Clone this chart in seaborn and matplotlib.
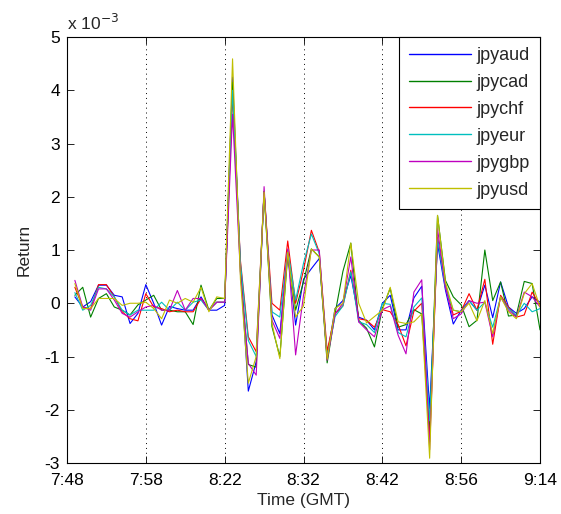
import matplotlib
matplotlib.use("Agg")
import matplotlib.pyplot as plt
import seaborn as sns
import pandas as pd
from matplotlib.ticker import FuncFormatter

# returns in units of 1e-3, one value per minute-step 1..60
steps = list(range(1, 61))
jpyaud = [0.12, -0.07, 0.03, 0.34, 0.34, 0.15, 0.12, -0.38, -0.19, 0.35,
          0.0, -0.41, -0.06, -0.1, -0.13, -0.13, 0.12, -0.13, -0.13, -0.04,
          4.25, 0.7, -1.65, -1.1, 2.1, -0.22, -0.57, 0.93, -0.41, 0.45,
          0.65, 0.84, -1.0, -0.1, 0.05, 0.52, -0.26, -0.32, -0.5, 0.0,
          0.15, -0.5, -0.5, 0.1, 0.32, -1.98, 1.12, 0.25, -0.39, -0.13,
          0.05, -0.13, 0.34, -0.27, 0.4, -0.07, -0.19, -0.1, 0.12, 0.02]
jpycad = [0.15, 0.3, -0.26, 0.09, 0.18, -0.07, -0.13, -0.22, -0.03, 0.06,
          0.15, -0.13, -0.13, -0.16, -0.16, -0.4, 0.34, -0.13, 0.09, 0.09,
          4.15, 0.6, -1.15, -1.2, 2.1, -0.44, -1.0, 0.9, -0.13, 0.4,
          1.02, 0.87, -1.12, -0.2, 0.6, 1.13, -0.32, -0.47, -0.82, -0.1,
          0.28, -0.45, -0.4, -0.12, -0.2, -2.45, 1.65, 0.43, 0.12, -0.03,
          -0.44, -0.32, 1.0, 0.05, 0.4, -0.24, -0.22, 0.41, 0.37, -0.5]
jpychf = [0.3, -0.07, -0.1, 0.35, 0.35, 0.12, -0.16, -0.29, -0.33, 0.18,
          -0.07, -0.1, -0.16, -0.13, -0.16, -0.16, 0.09, -0.13, 0.02, 0.02,
          3.92, 0.8, -0.63, -0.91, 2.1, 0.0, -0.13, 1.17, 0.0, 0.62,
          1.37, 0.96, -0.9, -0.2, -0.05, 0.62, -0.29, -0.32, -0.45, -0.12,
          -0.16, -0.4, -0.8, -0.15, 0.0, -2.6, 1.24, 0.35, -0.22, -0.15,
          0.18, -0.13, 0.45, -0.77, 0.15, -0.07, -0.26, -0.22, 0.21, -0.04]
jpyeur = [0.2, -0.13, -0.04, 0.3, 0.27, 0.12, -0.13, -0.22, -0.13, -0.13,
          -0.13, 0.02, -0.13, 0.02, -0.13, 0.02, 0.06, -0.13, 0.02, 0.02,
          4.0, 0.75, -0.7, -1.0, 2.1, -0.16, -0.26, 1.0, 0.06, 0.75,
          1.3, 0.93, -1.0, -0.25, -0.05, 0.59, -0.35, -0.4, -0.55, 0.0,
          -0.02, -0.55, -0.63, -0.07, 0.1, -2.2, 1.2, 0.3, -0.13, -0.16,
          0.05, -0.13, 0.02, -0.45, 0.12, -0.1, -0.23, 0.0, -0.16, -0.1]
jpygbp = [0.43, -0.07, -0.13, 0.27, 0.27, 0.06, -0.19, -0.26, -0.16, -0.07,
          -0.04, -0.13, -0.13, 0.24, -0.13, 0.09, 0.09, -0.13, 0.02, 0.02,
          3.55, 0.55, -1.13, -1.35, 2.19, -0.32, -0.66, 1.02, -0.97, 0.15,
          1.0, 1.0, -1.07, -0.2, 0.0, 0.87, -0.35, -0.5, -0.63, -0.12,
          -0.05, -0.6, -0.95, 0.21, 0.44, -2.75, 1.4, 0.3, -0.29, -0.2,
          0.05, 0.0, 0.02, -0.63, 0.12, -0.13, -0.26, 0.21, 0.12, -0.07]
jpyusd = [0.37, -0.1, -0.1, 0.09, 0.09, 0.09, -0.04, 0.0, 0.0, 0.02,
          -0.1, -0.29, 0.06, 0.0, 0.09, 0.02, 0.3, -0.16, 0.12, 0.09,
          4.59, 0.45, -1.5, -1.0, 2.09, -0.38, -1.04, 0.96, -0.26, -0.05,
          1.02, 0.87, -1.05, -0.1, 0.0, 1.13, 0.0, -0.37, -0.25, -0.13,
          0.3, -0.35, -0.38, -0.35, -0.2, -2.91, 1.65, 0.4, -0.13, -0.16,
          0.0, -0.33, 0.05, -0.57, 0.12, -0.16, -0.29, 0.18, 0.37, -0.07]

pairs = ["jpyaud", "jpycad", "jpychf", "jpyeur", "jpygbp", "jpyusd"]
series = [jpyaud, jpycad, jpychf, jpyeur, jpygbp, jpyusd]
tick_pos = [0, 10, 20, 30, 40, 50, 60]
tick_labels = ["7:48", "7:58", "8:22", "8:32", "8:42", "8:56", "9:14"]
colors = [(0, 0, 1), (0, 0.5, 0), (1, 0, 0), (0, 0.75, 0.75), (0.75, 0, 0.75), (0.75, 0.75, 0)]

rows = []
for name, vals in zip(pairs, series):
    for s, v in zip(steps, vals):
        rows.append({"step": s, "ret": v * 1e-3, "pair": name})
df = pd.DataFrame(rows)

sns.set_style("ticks")
plt.rcParams["font.family"] = ["Liberation Sans", "DejaVu Sans"]
plt.rcParams["xtick.direction"] = "in"
plt.rcParams["ytick.direction"] = "in"

fig = plt.figure(figsize=(5.61, 5.14), dpi=100)
ax = fig.add_axes([0.1194, 0.0992, 0.8432, 0.8288])
sns.lineplot(data=df, x="step", y="ret", hue="pair", hue_order=pairs,
             palette=colors, linewidth=0.8, ax=ax)

ax.set_xlim(0, 60)
ax.set_ylim(-3e-3, 5e-3)
ax.set_xticks(tick_pos)
ax.set_xticklabels(tick_labels)
ax.set_yticks([i * 1e-3 for i in range(-3, 6)])
ax.yaxis.set_major_formatter(FuncFormatter(lambda v, p: f"{v * 1e3:.0f}"))
ax.tick_params(axis="both", labelsize=12.5, length=5, width=0.6,
               top=True, right=True, color="black", labelcolor="black")
ax.tick_params(axis="x", pad=7)
ax.tick_params(axis="y", pad=5)
for x in tick_pos[1:-1]:
    ax.axvline(x, color="black", linestyle=(0, (1, 4)), linewidth=0.7, zorder=0)
for sp in ax.spines.values():
    sp.set_color("black")
    sp.set_linewidth(0.8)

ax.set_xlabel("Time (GMT)", fontsize=12.5, labelpad=4)
ax.set_ylabel("Return", fontsize=12.5, labelpad=9)
ax.text(0.0, 1.01, r"x 10$^{-3}$", transform=ax.transAxes, fontsize=12.5,
        ha="left", va="bottom")

handles, labels = ax.get_legend_handles_labels()
for h in handles:
    h.set_linewidth(1.0)
leg = ax.legend(handles, labels, loc="upper right", borderaxespad=0,
                fontsize=13, handlelength=3.4, labelspacing=0.55,
                fancybox=False, framealpha=1, edgecolor="black",
                borderpad=0.55, handletextpad=0.35)
leg.get_frame().set_linewidth(0.8)

fig.savefig("out.png", dpi=100)
plt.close(fig)
